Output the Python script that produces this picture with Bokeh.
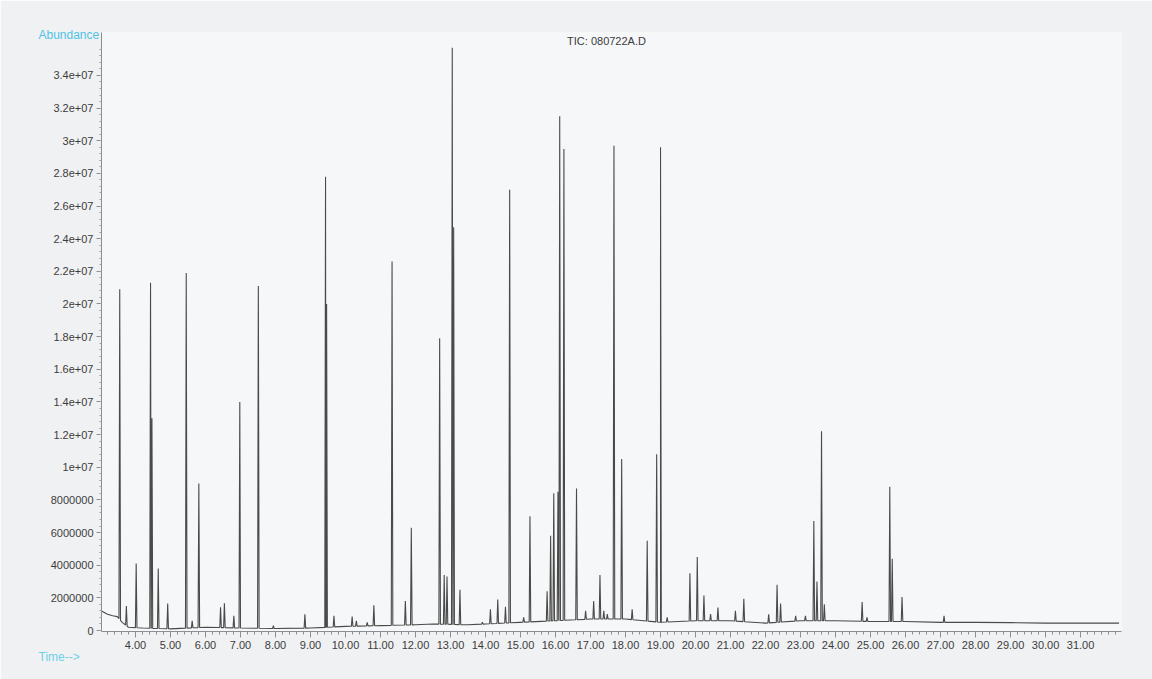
import numpy as np
from bokeh.plotting import figure
from bokeh.models import (FixedTicker, Label, Title, Range1d)
from bokeh.embed import file_html
from bokeh.resources import INLINE

# ---- data ----
peak_rt = [3.55, 3.74, 4.02, 4.43, 4.47, 4.65, 4.92, 5.45, 5.62, 5.81, 6.43, 6.54, 6.81,
           6.98, 7.51, 7.94, 8.84, 9.43, 9.46, 9.67, 10.19, 10.31, 10.62, 10.81, 11.33,
           11.71, 11.88, 12.69, 12.82, 12.90, 13.05, 13.09, 13.27, 13.91, 14.14, 14.35,
           14.57, 14.69, 15.09, 15.27, 15.76, 15.86, 15.95, 16.07, 16.12, 16.24, 16.60,
           16.86, 17.09, 17.27, 17.38, 17.48, 17.67, 17.89, 18.19, 18.62, 18.89, 19.00,
           19.19, 19.84, 20.05, 20.24, 20.43, 20.64, 21.14, 21.38, 22.09, 22.33, 22.43,
           22.86, 23.14, 23.38, 23.47, 23.60, 23.68, 24.76, 24.90, 25.55, 25.62, 25.90,
           27.10]
peak_abund = [2.09e7, 1.5e6, 4.1e6, 2.13e7, 1.3e7, 3.8e6, 1.65e6, 2.19e7, 0.6e6, 9.0e6,
              1.43e6, 1.67e6, 0.9e6, 1.40e7, 2.11e7, 0.3e6, 1.0e6, 2.78e7, 2.0e7, 0.9e6,
              0.86e6, 0.6e6, 0.5e6, 1.55e6, 2.26e7, 1.8e6, 6.3e6, 1.79e7, 3.4e6, 3.3e6,
              3.57e7, 2.47e7, 2.5e6, 0.5e6, 1.3e6, 1.9e6, 1.45e6, 2.70e7, 0.8e6, 7.0e6,
              2.4e6, 5.8e6, 8.4e6, 8.5e6, 3.15e7, 2.95e7, 8.7e6, 1.2e6, 1.8e6, 3.4e6,
              1.2e6, 1.0e6, 2.97e7, 1.05e7, 1.3e6, 5.5e6, 1.08e7, 2.96e7, 0.8e6, 3.5e6,
              4.5e6, 2.15e6, 1.0e6, 1.4e6, 1.2e6, 1.95e6, 1.0e6, 2.8e6, 1.65e6, 0.9e6,
              0.9e6, 6.7e6, 3.0e6, 1.22e7, 1.6e6, 1.75e6, 0.8e6, 8.8e6, 4.4e6, 2.05e6,
              0.9e6]

base_rt = [3.03, 3.2, 3.35, 3.48, 3.62, 3.8, 4.2, 5.0, 6.0, 7.0, 8.0, 9.0, 10.0, 11.0,
           12.0, 12.5, 13.5, 14.0, 15.0, 16.0, 17.0, 18.0, 19.0, 20.0, 21.0, 22.0, 23.0,
           24.0, 25.0, 26.0, 27.0, 28.0, 29.0, 30.0, 31.0, 32.1]
base_abund = [1.2e6, 1.0e6, 0.9e6, 0.85e6, 0.5e6, 0.2e6, 0.15e6, 0.1e6, 0.2e6, 0.15e6,
              0.12e6, 0.15e6, 0.25e6, 0.3e6, 0.35e6, 0.4e6, 0.35e6, 0.4e6, 0.5e6, 0.6e6,
              0.7e6, 0.7e6, 0.5e6, 0.6e6, 0.6e6, 0.45e6, 0.6e6, 0.6e6, 0.55e6, 0.55e6,
              0.5e6, 0.5e6, 0.48e6, 0.45e6, 0.45e6, 0.45e6]

x_ticks = list(range(4, 32))
x_tick_labels = ["%d.00" % v for v in x_ticks]
y_ticks = [i * 2000000 for i in range(18)]
y_tick_labels = ["0", "2000000", "4000000", "6000000", "8000000", "1e+07", "1.2e+07",
                 "1.4e+07", "1.6e+07", "1.8e+07", "2e+07", "2.2e+07", "2.4e+07",
                 "2.6e+07", "2.8e+07", "3e+07", "3.2e+07", "3.4e+07"]

# ---- build trace: baseline points plus narrow triangular peaks ----
hw = 0.022
pts = list(zip(base_rt, base_abund))
for t, h in zip(peak_rt, peak_abund):
    b1 = float(np.interp(t - hw, base_rt, base_abund))
    b2 = float(np.interp(t + hw, base_rt, base_abund))
    pts += [(t - hw, b1), (t, h), (t + hw, b2)]
pts.sort(key=lambda q: q[0])
tx = [q[0] for q in pts]
ty = [q[1] for q in pts]

FONT = "Liberation Sans"
W, H = 1152, 679
L, R, T, B = 101, 31, 32, 48
PX = 61255.0                      # abundance per pixel
y0 = -1 * PX
y1 = y0 + (H - T - B) * PX

p = figure(width=W, height=H, output_backend="svg", toolbar_location=None,
           x_range=Range1d(3.029, 32.17), y_range=Range1d(y0, y1),
           min_border_left=L, min_border_right=R, min_border_top=T, min_border_bottom=B,
           background_fill_color="#f6f7f8", border_fill_color="#f0f1f3")
p.outline_line_color = None
p.grid.visible = False

p.line(tx, ty, line_color="#4a4a4a", line_width=1.1)

# axes styling
xa = p.xaxis[0]
xa.ticker = FixedTicker(ticks=x_ticks, minor_ticks=[round(3.2 + 0.2 * i, 2) for i in range(145)])
xa.major_label_overrides = {v: s for v, s in zip(x_ticks, x_tick_labels)}
xa.major_tick_out = 6
xa.major_tick_in = 0
xa.minor_tick_out = 3
xa.minor_tick_in = 0
xa.axis_line_color = "#8a8f94"
xa.major_tick_line_color = "#8a8f94"
xa.minor_tick_line_color = "#8a8f94"
xa.major_label_text_font = FONT
xa.major_label_text_font_size = "11px"
xa.major_label_text_color = "#3c3c3c"
xa.major_label_standoff = 3

ya = p.yaxis[0]
ya.ticker = FixedTicker(ticks=y_ticks, minor_ticks=[i * 400000 for i in range(90)])
ya.major_label_overrides = {v: s for v, s in zip(y_ticks, y_tick_labels)}
ya.major_tick_out = 5
ya.major_tick_in = 0
ya.minor_tick_out = 2
ya.minor_tick_in = 0
ya.axis_line_color = "#8a8f94"
ya.major_tick_line_color = "#8a8f94"
ya.minor_tick_line_color = "#9aa0a4"
ya.major_label_text_font = FONT
ya.major_label_text_font_size = "11px"
ya.major_label_text_color = "#3c3c3c"
ya.major_label_standoff = 3

# free texts
p.add_layout(Title(text="Abundance", align="left", offset=-63, standoff=-19,
                   text_font=FONT, text_font_size="12px", text_font_style="normal",
                   text_color="#4fc3e6"), "above")
p.add_layout(Title(text="Time-->", align="left", offset=-63, standoff=-25,
                   text_font=FONT, text_font_size="12px", text_font_style="normal",
                   text_color="#6fcfe8"), "below")
p.add_layout(Label(x=606, y=40, x_units="canvas", y_units="canvas",
                   text="TIC: 080722A.D", text_font=FONT, text_font_size="11px",
                   text_color="#3c3c3c", text_baseline="middle", text_align="center"))

open("out.html", "w").write(file_html(p, INLINE))
